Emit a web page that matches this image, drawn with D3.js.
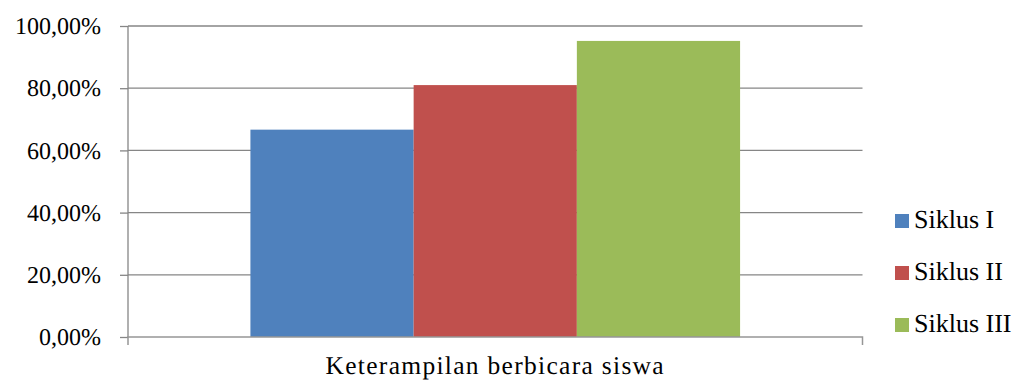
<!DOCTYPE html>
<html>
<head>
<meta charset="utf-8">
<script src="https://cdn.jsdelivr.net/npm/d3@7"></script>
</head>
<body style="margin:0">
<svg id="chart" width="1018" height="381" text-rendering="geometricPrecision"></svg>
<script>
// Chart data
const categories = ["Keterampilan berbicara siswa"];
const seriesNames = ["Siklus I", "Siklus II", "Siklus III"];
const seriesValues = [66.67, 81.0, 95.2];
const seriesColors = ["#4F81BD", "#C0504D", "#9BBB59"];
const yTicks = [0, 20, 40, 60, 80, 100];

const FONT = "Liberation Serif";
const svg = d3.select("#chart");
const plot = { left: 128, right: 862.5, top: 26, bottom: 337 };

const y = d3.scaleLinear().domain([0, 100]).range([plot.bottom, plot.top]);
const x = d3.scaleBand().domain(categories).range([plot.left, plot.right])
  .paddingInner(0).paddingOuter(0.25);
const xs = d3.scaleBand().domain(seriesNames).range([0, x.bandwidth()]).padding(0);

const fmt = v => d3.format(".2f")(v).replace(".", ",") + "%";

// Horizontal gridlines
svg.append("g").selectAll("line").data(yTicks.filter(t => t > 0)).join("line")
  .attr("x1", plot.left).attr("x2", plot.right)
  .attr("y1", d => y(d)).attr("y2", d => y(d))
  .attr("stroke", "#868686").attr("stroke-width", 1.3);

// Bars
const g = svg.append("g");
categories.forEach(cat => {
  g.selectAll("rect").data(seriesValues).join("rect")
    .attr("x", (d, i) => x(cat) + xs(seriesNames[i]))
    .attr("width", xs.bandwidth())
    .attr("y", d => y(d))
    .attr("height", d => y(0) - y(d))
    .attr("fill", (d, i) => seriesColors[i]);
});

// Y axis
const yAxis = svg.append("g").attr("transform", `translate(${plot.left},0)`)
  .call(d3.axisLeft(y).tickValues(yTicks).tickFormat(fmt).tickSize(8).tickPadding(19));
yAxis.attr("font-family", null).attr("font-size", null);
yAxis.select(".domain").attr("stroke", "#868686").attr("stroke-width", 1.3)
  .attr("d", `M0,${plot.top}V${plot.bottom}`);
yAxis.selectAll(".tick line").attr("stroke", "#868686").attr("stroke-width", 1.3);
yAxis.selectAll(".tick text").attr("fill", "#000")
  .attr("font-family", FONT).attr("font-size", 24);

// X axis
const xAxis = svg.append("g").attr("transform", `translate(0,${plot.bottom})`)
  .call(d3.axisBottom(x).tickSize(0).tickPadding(0).tickFormat(""));
xAxis.select(".domain").attr("stroke", "#969696").attr("stroke-width", 1.5)
  .attr("d", `M${plot.left},8V0H${plot.right}V8`).attr("fill", "none");
xAxis.selectAll(".tick text").remove();

svg.append("text")
  .attr("x", x(categories[0]) + x.bandwidth() / 2)
  .attr("y", 374)
  .attr("text-anchor", "middle")
  .attr("font-family", FONT)
  .attr("font-size", 25.5)
  .attr("letter-spacing", 1.3)
  .attr("fill", "#000")
  .text(categories[0]);

// Legend
const legend = svg.append("g").selectAll("g").data(seriesNames).join("g")
  .attr("transform", (d, i) => `translate(895,${228 + i * 52})`);
legend.append("rect").attr("x", 0).attr("y", -14).attr("width", 14).attr("height", 14)
  .attr("fill", (d, i) => seriesColors[i]);
legend.append("text").attr("x", 19).attr("y", 0)
  .attr("font-family", FONT).attr("font-size", 26).attr("fill", "#000").text(d => d);
</script>
</body>
</html>
